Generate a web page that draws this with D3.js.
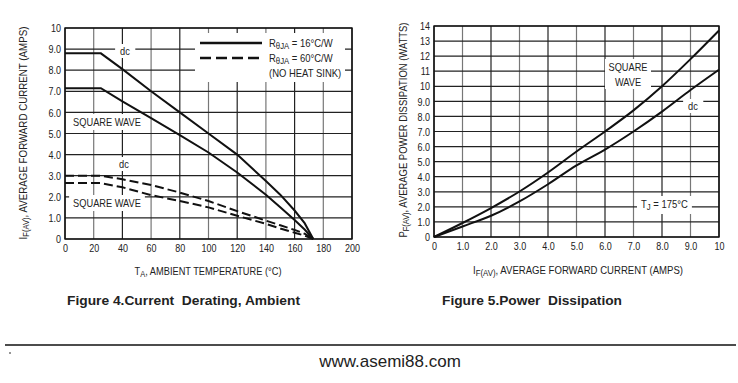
<!DOCTYPE html>
<html>
<head>
<meta charset="utf-8">
<script src="https://cdn.jsdelivr.net/npm/d3@7"></script>
<style>
  body { margin: 0; background: #fff; }
  text { font-family: "Liberation Sans", Arial, sans-serif; fill: #222; }
</style>
</head>
<body>
<div id="viz"></div>
<script>
var width = 738;
var height = 383;

// Figure 4 - current derating, ambient
var tempX    = [0, 25, 40, 60, 80, 100, 120, 140, 150, 160, 167, 173];
var dcSink   = [8.8, 8.8, 8.05, 7.0, 6.0, 5.0, 4.0, 2.75, 2.1, 1.35, 0.75, 0];
var swSink   = [7.15, 7.15, 6.52, 5.73, 4.92, 4.1, 3.15, 2.1, 1.5, 0.9, 0.45, 0];
var dcNoSink = [3.0, 3.0, 2.83, 2.56, 2.2, 1.8, 1.32, 0.87, 0.65, 0.43, 0.25, 0];
var swNoSink = [2.65, 2.65, 2.45, 2.08, 1.8, 1.5, 1.1, 0.72, 0.5, 0.3, 0.16, 0];
var tempTicks = [0, 20, 40, 60, 80, 100, 120, 140, 160, 180, 200];
var ampTicks  = [0, 1, 2, 3, 4, 5, 6, 7, 8, 9, 10];

// Figure 5 - power dissipation
var iAvg    = [0, 1, 2, 3, 4, 5, 6, 7, 8, 9, 10];
var pSquare = [0, 0.93, 1.92, 3.02, 4.28, 5.67, 7.0, 8.4, 10.0, 11.8, 13.7];
var pDc     = [0, 0.7, 1.41, 2.36, 3.5, 4.75, 5.8, 7.0, 8.32, 9.75, 11.1];
var curTicks = [0, 1, 2, 3, 4, 5, 6, 7, 8, 9, 10];
var wattTicks = [0, 1, 2, 3, 4, 5, 6, 7, 8, 9, 10, 11, 12, 13, 14];

var svg = d3.select('#viz').append('svg')
  .attr('width', width)
  .attr('height', height)
  .style('background', '#fff');

function fmt(d) {
  if (d === 0) return '0';
  if (d >= 10) return String(d);
  return d.toFixed(1);
}

// squeeze text horizontally, the datasheet uses a condensed face
function narrow(sel, f) {
  sel.each(function() {
    var w = this.getComputedTextLength();
    d3.select(this).attr('textLength', w * f).attr('lengthAdjust', 'spacingAndGlyphs');
  });
}

function drawPanel(opt) {
  var x = d3.scaleLinear().domain(opt.xDomain).range([opt.left, opt.right]);
  var y = d3.scaleLinear().domain(opt.yDomain).range([opt.bottom, opt.top]);
  var g = svg.append('g');

  // grid
  g.append('g').selectAll('line').data(opt.xTicks).enter().append('line')
    .attr('x1', d => x(d)).attr('x2', d => x(d))
    .attr('y1', opt.top).attr('y2', opt.bottom)
    .attr('stroke', (d, i) => i % 2 ? '#777' : '#222')
    .attr('stroke-width', 1.2);
  g.append('g').selectAll('line').data(opt.yTicks).enter().append('line')
    .attr('y1', d => y(d)).attr('y2', d => y(d))
    .attr('x1', opt.left).attr('x2', opt.right)
    .attr('stroke', '#222')
    .attr('stroke-width', 1.2);

  // tick labels
  var xAxis = g.append('g')
    .attr('transform', 'translate(0,' + opt.bottom + ')')
    .call(d3.axisBottom(x).tickValues(opt.xTicks).tickSize(0).tickPadding(5).tickFormat(fmt));
  var yAxis = g.append('g')
    .attr('transform', 'translate(' + opt.left + ',0)')
    .call(d3.axisLeft(y).tickValues(opt.yTicks).tickSize(0).tickPadding(4).tickFormat(fmt));
  [xAxis, yAxis].forEach(function(a) {
    a.select('.domain').remove();
    a.selectAll('text').attr('font-size', 11.5).attr('fill', '#222')
      .attr('font-family', '"Liberation Sans", Arial, sans-serif');
    narrow(a.selectAll('text'), 0.78);
  });

  g.append('rect')
    .attr('x', opt.left).attr('y', opt.top)
    .attr('width', opt.right - opt.left).attr('height', opt.bottom - opt.top)
    .attr('fill', 'none').attr('stroke', '#111').attr('stroke-width', 1.4);

  return {g: g, x: x, y: y};
}

function label(g, str, px, py, anchor) {
  var t = g.append('text').attr('x', px).attr('y', py)
    .attr('text-anchor', anchor || 'middle')
    .attr('dominant-baseline', 'central')
    .attr('font-size', 11).text(str);
  narrow(t, 0.84);
  return t;
}

function whiteBehind(g, t, padX, padY) {
  var b = t.node().getBBox();
  g.insert('rect', function() { return t.node(); })
    .attr('x', b.x - padX).attr('y', b.y - padY)
    .attr('width', b.width + padX * 2).attr('height', b.height + padY * 2)
    .attr('fill', '#fff');
}

function plotLine(p, xs, ys, dashed) {
  var line = d3.line()
    .x(function(d, i) { return p.x(xs[i]); })
    .y(function(d) { return p.y(d); })
    .curve(dashed === 'smooth' ? d3.curveMonotoneX : d3.curveLinear);
  p.g.append('path')
    .datum(ys)
    .attr('d', line)
    .attr('fill', 'none')
    .attr('stroke', '#111')
    .attr('stroke-width', 2)
    .attr('stroke-dasharray', dashed === true ? '9,4' : null);
}

// ---------- Figure 4 ----------
var p4 = drawPanel({
  xDomain: [0, 200], yDomain: [0, 10],
  left: 65, right: 352, top: 28, bottom: 239,
  xTicks: tempTicks, yTicks: ampTicks
});

// legend box
p4.g.append('rect').attr('x', 195).attr('y', 33).attr('width', 150).attr('height', 49).attr('fill', '#fff');
var legend = p4.g.append('g');
legend.append('line').attr('x1', 200).attr('x2', 262).attr('y1', 43).attr('y2', 43)
  .attr('stroke', '#111').attr('stroke-width', 2.5);
legend.append('line').attr('x1', 200).attr('x2', 262).attr('y1', 58).attr('y2', 58)
  .attr('stroke', '#111').attr('stroke-width', 2.5).attr('stroke-dasharray', '11,5');
var l1 = legend.append('text').attr('x', 269).attr('y', 43).attr('dominant-baseline', 'central').attr('font-size', 11);
l1.append('tspan').text('R');
l1.append('tspan').attr('font-size', 9).attr('dy', 3).text('θJA');
l1.append('tspan').attr('dy', -3).text(' = 16°C/W');
var l2 = legend.append('text').attr('x', 269).attr('y', 58).attr('dominant-baseline', 'central').attr('font-size', 11);
l2.append('tspan').text('R');
l2.append('tspan').attr('font-size', 9).attr('dy', 3).text('θJA');
l2.append('tspan').attr('dy', -3).text(' = 60°C/W');
var l3 = legend.append('text').attr('x', 269).attr('y', 73).attr('dominant-baseline', 'central').attr('font-size', 11).text('(NO HEAT SINK)');
narrow(legend.selectAll('text'), 0.86);

whiteBehind(p4.g, label(p4.g, 'dc', 125, 51), 5, 1);
whiteBehind(p4.g, label(p4.g, 'SQUARE WAVE', 107, 122), 4, 2);
whiteBehind(p4.g, label(p4.g, 'dc', 124, 164), 5, 1);
whiteBehind(p4.g, label(p4.g, 'SQUARE WAVE', 107, 203), 4, 2);

plotLine(p4, tempX, dcSink, false);
plotLine(p4, tempX, swSink, false);
plotLine(p4, tempX, dcNoSink, true);
plotLine(p4, tempX, swNoSink, true);

// axis titles
var yt4 = svg.append('text')
  .attr('transform', 'translate(27,133) rotate(-90)')
  .attr('text-anchor', 'middle').attr('font-size', 11.5);
yt4.append('tspan').text('I');
yt4.append('tspan').attr('font-size', 9).attr('dy', 2).text('F(AV)');
yt4.append('tspan').attr('dy', -2).text(', AVERAGE FORWARD CURRENT (AMPS)');
yt4.attr('textLength', 213).attr('lengthAdjust', 'spacingAndGlyphs');

var xt4 = svg.append('text').attr('x', 208).attr('y', 275)
  .attr('text-anchor', 'middle').attr('font-size', 11);
xt4.append('tspan').text('T');
xt4.append('tspan').attr('font-size', 9).attr('dy', 2).text('A');
xt4.append('tspan').attr('dy', -2).text(', AMBIENT TEMPERATURE (°C)');
xt4.attr('textLength', 147).attr('lengthAdjust', 'spacingAndGlyphs');

svg.append('text').attr('x', 67).attr('y', 305)
  .attr('font-size', 13.5).attr('font-weight', 'bold')
  .attr('xml:space', 'preserve')
  .attr('textLength', 233).attr('lengthAdjust', 'spacingAndGlyphs')
  .text('Figure 4.Current  Derating, Ambient');

// ---------- Figure 5 ----------
var p5 = drawPanel({
  xDomain: [0, 10], yDomain: [0, 14],
  left: 434, right: 719, top: 26, bottom: 237,
  xTicks: curTicks, yTicks: wattTicks
});

p5.g.append('rect').attr('x', 605).attr('y', 59).attr('width', 46).attr('height', 30).attr('fill', '#fff');
label(p5.g, 'SQUARE', 628, 67);
label(p5.g, 'WAVE', 628, 82);
whiteBehind(p5.g, label(p5.g, 'dc', 693, 106), 5, 1);

var tj = p5.g.append('text').attr('x', 641).attr('y', 204).attr('dominant-baseline', 'central').attr('font-size', 11);
tj.append('tspan').text('T');
tj.append('tspan').attr('font-size', 9).attr('dy', 3).text('J');
tj.append('tspan').attr('dy', -3).text(' = 175°C');
narrow(tj, 0.86);
whiteBehind(p5.g, tj, 4, 2);

plotLine(p5, iAvg, pSquare, 'smooth');
plotLine(p5, iAvg, pDc, 'smooth');

var yt5 = svg.append('text')
  .attr('transform', 'translate(407,130) rotate(-90)')
  .attr('text-anchor', 'middle').attr('font-size', 11.5);
yt5.append('tspan').text('P');
yt5.append('tspan').attr('font-size', 9).attr('dy', 2).text('F(AV)');
yt5.append('tspan').attr('dy', -2).text(', AVERAGE POWER DISSIPATION (WATTS)');
yt5.attr('textLength', 215).attr('lengthAdjust', 'spacingAndGlyphs');

var xt5 = svg.append('text').attr('x', 578).attr('y', 274)
  .attr('text-anchor', 'middle').attr('font-size', 11);
xt5.append('tspan').text('I');
xt5.append('tspan').attr('font-size', 9).attr('dy', 2).text('F(AV)');
xt5.append('tspan').attr('dy', -2).text(', AVERAGE FORWARD CURRENT (AMPS)');
xt5.attr('textLength', 210).attr('lengthAdjust', 'spacingAndGlyphs');

svg.append('text').attr('x', 442).attr('y', 305)
  .attr('font-size', 13.5).attr('font-weight', 'bold')
  .attr('xml:space', 'preserve')
  .attr('textLength', 180).attr('lengthAdjust', 'spacingAndGlyphs')
  .text('Figure 5.Power  Dissipation');

// ---------- footer ----------
svg.append('line').attr('x1', 5).attr('x2', 736).attr('y1', 345).attr('y2', 345)
  .attr('stroke', '#111').attr('stroke-width', 1.3);
svg.append('circle').attr('cx', 10).attr('cy', 353).attr('r', 0.8).attr('fill', '#111');
svg.append('text').attr('x', 390).attr('y', 367)
  .attr('text-anchor', 'middle').attr('font-size', 17)
  .text('www.asemi88.com');
</script>
</body>
</html>
